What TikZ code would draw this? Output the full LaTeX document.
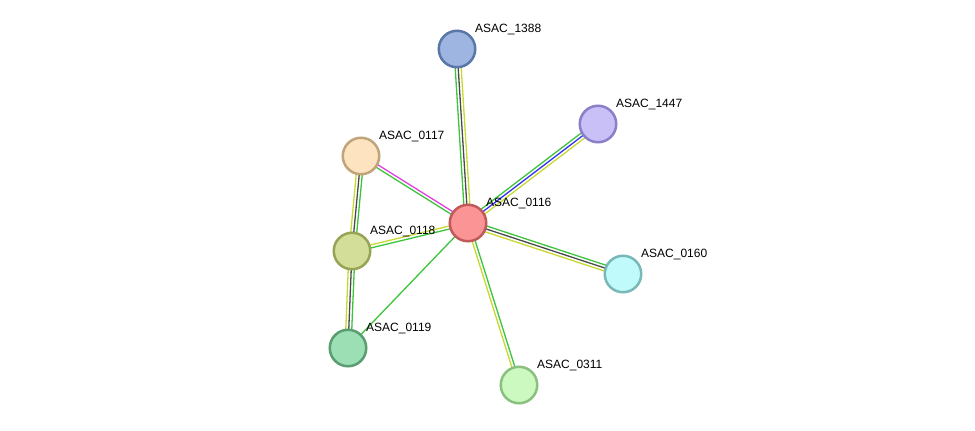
\documentclass[tikz,border=0pt]{standalone}
\usepackage{fontspec}
\setmainfont{Liberation Sans}
\usetikzlibrary{calc,backgrounds}
\definecolor{eg}{HTML}{3CC43C}
\definecolor{ek}{HTML}{4A4A4A}
\definecolor{ey}{HTML}{C8D832}
\definecolor{eb}{HTML}{3333F0}
\definecolor{em}{HTML}{E040E0}
\definecolor{f1388}{HTML}{9DB5E0}\definecolor{d1388}{HTML}{5A77A8}
\definecolor{f1447}{HTML}{C9C0F7}\definecolor{d1447}{HTML}{8B7FC8}
\definecolor{f0117}{HTML}{FDE3C0}\definecolor{d0117}{HTML}{C0A47A}
\definecolor{f0116}{HTML}{FB9494}\definecolor{d0116}{HTML}{C05A5A}
\definecolor{f0118}{HTML}{D3DF98}\definecolor{d0118}{HTML}{96A455}
\definecolor{f0160}{HTML}{C0FAFA}\definecolor{d0160}{HTML}{7AB8B8}
\definecolor{f0119}{HTML}{9DDFB4}\definecolor{d0119}{HTML}{5A9D70}
\definecolor{f0311}{HTML}{CCF9C0}\definecolor{d0311}{HTML}{8BC080}
\tikzset{
 prot/.style={circle, line width=2.5pt, minimum size=36.5pt, inner sep=0pt, fill=f#1, draw=d#1},
 lbl/.style={anchor=base west, font=\fontsize{12}{14}\selectfont, inner sep=0pt, text=black},
 ln/.style={line width=1.3pt}
}
% line parallel to a--b shifted to the left side (L) or right side (R)
\newcommand\plineL[4]{\draw[ln,draw=#4] ($(#1.center)!#3!90:(#2.center)$) -- ($(#2.center)!#3!-90:(#1.center)$);}
\newcommand\plineR[4]{\draw[ln,draw=#4] ($(#1.center)!#3!-90:(#2.center)$) -- ($(#2.center)!#3!90:(#1.center)$);}
\newcommand\plineC[3]{\draw[ln,draw=#3] (#1.center) -- (#2.center);}
\newcommand\trio[5]{\plineL{#1}{#2}{3pt}{#3}\plineC{#1}{#2}{#4}\plineR{#1}{#2}{3pt}{#5}}
\newcommand\duo[4]{\plineL{#1}{#2}{1.5pt}{#3}\plineR{#1}{#2}{1.5pt}{#4}}
\begin{document}
\begin{tikzpicture}[x=1pt,y=-1pt]
\useasboundingbox (0,0) rectangle (975,431);
\node[prot=1388] (n1388) at (457,49) {};
\node[prot=1447] (n1447) at (598,124) {};
\node[prot=0117] (n0117) at (361,156) {};
\node[prot=0116] (n0116) at (468,223) {};
\node[prot=0118] (n0118) at (352,251) {};
\node[prot=0160] (n0160) at (623,274) {};
\node[prot=0119] (n0119) at (348,348) {};
\node[prot=0311] (n0311) at (519,385) {};
\node[lbl] (l1388) at (475,32) {ASAC\_1388};
\node[lbl] (l1447) at (616,107) {ASAC\_1447};
\node[lbl] (l0117) at (379,139) {ASAC\_0117};
\node[lbl] (l0116) at (486,206) {ASAC\_0116};
\node[lbl] (l0118) at (370,234) {ASAC\_0118};
\node[lbl] (l0160) at (641,257) {ASAC\_0160};
\node[lbl] (l0119) at (366,331) {ASAC\_0119};
\node[lbl] (l0311) at (537,368) {ASAC\_0311};
\begin{pgfonlayer}{background}
\trio{n0116}{n1388}{eg}{ek}{ey}
\trio{n0116}{n1447}{eg}{eb}{ey}
\trio{n0116}{n0160}{eg}{ek}{ey}
\duo{n0116}{n0311}{eg}{ey}
\duo{n0116}{n0117}{eg}{em}
\duo{n0116}{n0118}{eg}{ey}
\plineC{n0116}{n0119}{eg}
\trio{n0117}{n0118}{eg}{ek}{ey}
\trio{n0118}{n0119}{eg}{ek}{ey}
\end{pgfonlayer}
\end{tikzpicture}
\end{document}
